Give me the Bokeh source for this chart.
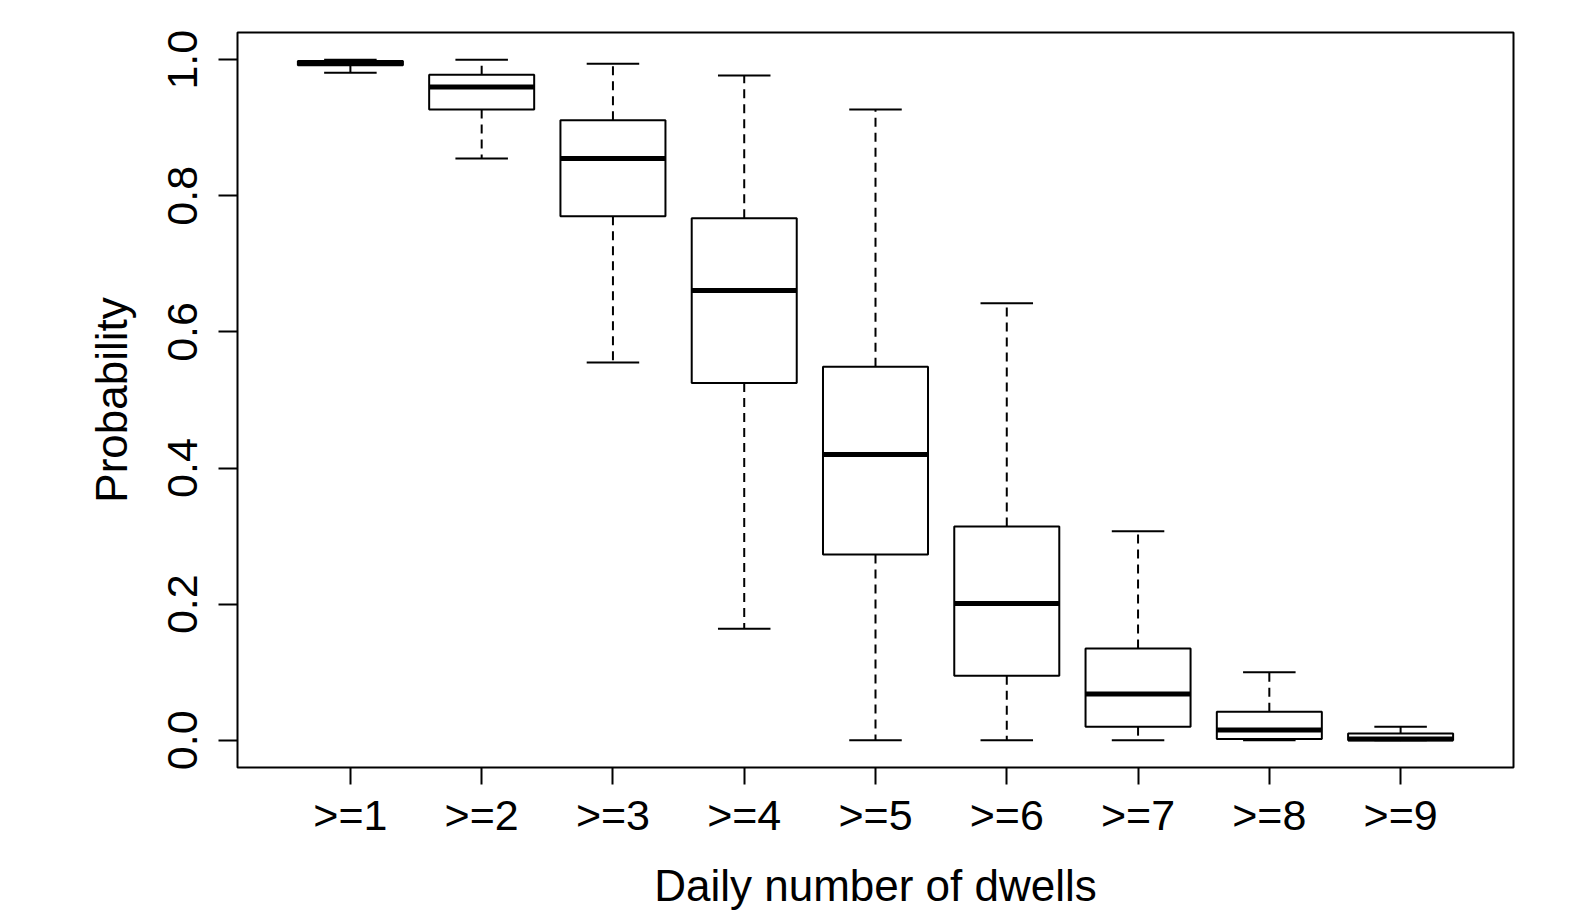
from bokeh.plotting import figure
from bokeh.models import Range1d, FixedTicker, PrintfTickFormatter
from bokeh.embed import file_html
from bokeh.resources import INLINE

categories = [">=1", ">=2", ">=3", ">=4", ">=5", ">=6", ">=7", ">=8", ">=9"]
lower_whisker = [0.981, 0.855, 0.555, 0.164, 0.0, 0.0, 0.0, 0.0, 0.0]
q1 = [0.992, 0.927, 0.770, 0.525, 0.273, 0.095, 0.020, 0.002, 0.0]
median = [0.995, 0.960, 0.855, 0.661, 0.420, 0.201, 0.068, 0.015, 0.002]
q3 = [0.998, 0.978, 0.911, 0.767, 0.549, 0.314, 0.135, 0.042, 0.010]
upper_whisker = [1.0, 1.0, 0.994, 0.977, 0.927, 0.642, 0.307, 0.100, 0.020]
y_ticks = [0.0, 0.2, 0.4, 0.6, 0.8, 1.0]

pos = list(range(1, len(categories) + 1))
box_half = 0.4
cap_half = 0.2
FONT = "Liberation Sans"

p = figure(width=1566, height=913, output_backend="svg", toolbar_location=None,
           x_range=Range1d(0.14, 9.86), y_range=Range1d(-0.04, 1.04),
           min_border_left=237, min_border_right=53, min_border_top=32, min_border_bottom=146)
p.background_fill_color = "white"
p.border_fill_color = "white"
p.outline_line_color = "black"
p.outline_line_width = 2
p.xgrid.visible = False
p.ygrid.visible = False

# whiskers (dashed)
p.segment(x0=pos, y0=q3, x1=pos, y1=upper_whisker, line_color="black", line_width=2, line_dash="9 6")
p.segment(x0=pos, y0=q1, x1=pos, y1=lower_whisker, line_color="black", line_width=2, line_dash="9 6")
# staples
p.segment(x0=[x - cap_half for x in pos], y0=upper_whisker, x1=[x + cap_half for x in pos], y1=upper_whisker,
          line_color="black", line_width=2)
p.segment(x0=[x - cap_half for x in pos], y0=lower_whisker, x1=[x + cap_half for x in pos], y1=lower_whisker,
          line_color="black", line_width=2)
# boxes
p.quad(left=[x - box_half for x in pos], right=[x + box_half for x in pos], bottom=q1, top=q3,
       fill_color="white", line_color="black", line_width=2)
# medians
p.segment(x0=[x - box_half for x in pos], y0=median, x1=[x + box_half for x in pos], y1=median,
          line_color="black", line_width=5)

xa = p.xaxis[0]
xa.ticker = FixedTicker(ticks=pos)
xa.major_label_overrides = {i: c for i, c in zip(pos, categories)}
xa.axis_label = "Daily number of dwells"
ya = p.yaxis[0]
ya.ticker = FixedTicker(ticks=y_ticks)
ya.formatter = PrintfTickFormatter(format="%.1f")
ya.axis_label = "Probability"
ya.major_label_orientation = "vertical"

for ax, tick in ((xa, 17), (ya, 19)):
    ax.axis_line_color = None
    ax.major_tick_in = 0
    ax.major_tick_out = tick
    ax.major_tick_line_width = 2
    ax.major_tick_line_color = "black"
    ax.minor_tick_line_color = None
    ax.major_label_text_font = FONT
    ax.major_label_text_font_size = "43px"
    ax.major_label_text_color = "black"
    ax.axis_label_text_font = FONT
    ax.axis_label_text_font_size = "44px"
    ax.axis_label_text_font_style = "normal"
    ax.axis_label_text_color = "black"

xa.major_label_standoff = 6
xa.axis_label_standoff = 19
ya.major_label_standoff = 21
ya.axis_label_standoff = 30

open("out.html", "w").write(file_html(p, INLINE))
